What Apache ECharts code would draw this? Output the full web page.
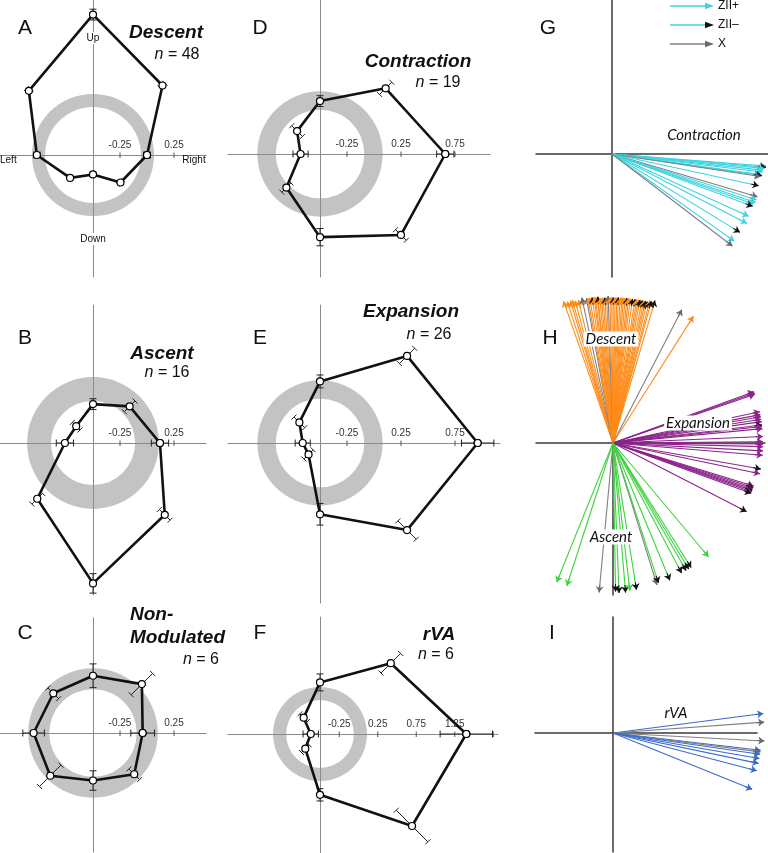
<!DOCTYPE html>
<html><head><meta charset="utf-8">
<script src="https://cdn.jsdelivr.net/npm/echarts@6/dist/echarts.min.js"></script>
<style>html,body{margin:0;padding:0;background:#fff}#c{width:768px;height:853px}</style>
</head><body><div id="c"></div><script>
// ---------- DATA ----------
const DIRECTIONS = [0, 45, 90, 135, 180, 225, 270, 315]; // Right, UR, Up, UL, Left, DL, Down, DR
const RADIAL_ORIGIN = -0.5; // value at the centre of the polar plots

const descentVals      = [0.00, 0.41, 0.80, 0.34, 0.02, -0.20, -0.32, -0.14];
const descentErr       = [0.03, 0.03, 0.05, 0.03, 0.03, 0.02, 0.02, 0.02];
const descentRing      = [-0.056, 0.065];

const ascentVals       = [0.12, -0.02, -0.14, -0.28, -0.24, 0.23, 0.80, 0.44];
const ascentErr        = [0.08, 0.07, 0.05, 0.05, 0.08, 0.07, 0.09, 0.07];
const ascentRing       = [-0.11, 0.11];

const nonModVals       = [-0.04, 0.14, 0.03, 0.02, 0.05, 0.06, -0.06, 0.04];
const nonModErr        = [0.11, 0.14, 0.11, 0.07, 0.10, 0.14, 0.09, 0.07];
const nonModRing       = [-0.095, 0.10];

const contractionVals  = [0.66, 0.36, -0.01, -0.20, -0.32, -0.06, 0.27, 0.56];
const contractionErr   = [0.08, 0.08, 0.05, 0.07, 0.07, 0.06, 0.08, 0.07];
const contractionRing  = [-0.09, 0.08];

const expansionVals    = [0.96, 0.64, 0.07, -0.23, -0.34, -0.35, 0.16, 0.64];
const expansionErr     = [0.15, 0.10, 0.06, 0.07, 0.07, 0.06, 0.10, 0.12];
const expansionRing    = [-0.09, 0.08];

const rvaVals          = [1.40, 0.80, 0.17, -0.20, -0.38, -0.23, 0.29, 1.19];
const rvaErr           = [0.34, 0.18, 0.11, 0.07, 0.10, 0.07, 0.08, 0.29];
const rvaRing          = [-0.06, 0.11];

const ticksABC = [-0.25, 0.25];
const ticksDE  = [-0.25, 0.25, 0.75];
const ticksF   = [-0.25, 0.25, 0.75, 1.25, 1.75];
const labelsF  = [-0.25, 0.25, 0.75, 1.25];

// vectors: [angle deg, length, type]  P = ZII+, M = ZII-, X = X
const contractionVectors = [
  [-4.5,1.03,'P'],[-4.9,1.03,'M'],[-5.4,1.02,'P'],[-6.1,1.01,'P'],[-6.8,1.01,'P'],[-7.9,1.0,'P'],
  [-8.2,1.01,'M'],[-8.6,1.0,'X'],[-12.2,1.0,'M'],[-16.4,1.01,'X'],[-17.6,1.01,'P'],[-18.7,1.01,'P'],
  [-19.5,1.0,'P'],[-20.4,1.0,'M'],[-24.5,1.0,'P'],[-27.2,1.01,'P'],[-31.5,1.0,'M'],[-35.5,1.0,'P'],[-37.4,1.01,'X']
];
const descentVectors = [
  [109.2,1.0,'P'],[107.9,0.99,'P'],[106.7,0.99,'P'],[105.9,0.99,'P'],[104.9,0.98,'P'],[103.6,0.98,'P'],
  [102.1,0.99,'X'],[100.4,0.98,'X'],[99.8,0.98,'P'],[99.1,0.98,'P'],[98.2,0.98,'M'],[97.4,0.98,'P'],
  [96.9,0.98,'P'],[96.2,0.98,'P'],[95.9,0.98,'M'],[95.2,0.97,'P'],[94.5,0.97,'P'],[93.9,0.97,'P'],
  [93.2,0.97,'M'],[92.5,0.97,'P'],[91.9,0.98,'X'],[91.2,0.97,'P'],[90.5,0.97,'P'],[89.9,0.97,'M'],
  [89.2,0.97,'P'],[88.5,0.97,'P'],[87.9,0.97,'M'],[87.2,0.97,'P'],[86.5,0.97,'P'],[85.9,0.97,'P'],
  [85.2,0.97,'P'],[84.5,0.97,'M'],[83.9,0.97,'P'],[83.2,0.97,'P'],[82.3,0.97,'M'],[81.3,0.97,'M'],
  [80.6,0.97,'P'],[80.0,0.97,'P'],[79.3,0.97,'M'],[78.4,0.97,'M'],[77.7,0.97,'P'],[77.1,0.97,'M'],
  [76.4,0.97,'M'],[75.5,0.98,'P'],[74.9,0.98,'M'],[73.6,0.99,'M'],[62.7,1.0,'X'],[57.6,1.0,'P']
];
const expansionVectors = [
  [20.0,1.0,'P'],[19.5,1.0,'P'],[19.0,1.0,'P'],[12.0,1.0,'P'],[10.9,1.0,'P'],[10.1,1.0,'P'],
  [9.1,1.0,'P'],[8.2,1.0,'P'],[6.9,1.0,'M'],[6.3,1.0,'P'],[5.5,1.0,'P'],[2.5,1.0,'P'],
  [0.5,1.0,'P'],[-0.4,1.0,'P'],[-1.4,1.0,'P'],[-3.0,1.0,'P'],[-4.7,1.0,'P'],[-10.0,1.0,'M'],
  [-11.8,1.0,'P'],[-17.0,0.98,'P'],[-17.6,0.98,'M'],[-18.2,0.98,'P'],[-18.8,0.98,'M'],[-19.4,0.98,'P'],
  [-20.0,0.98,'M'],[-27.2,1.0,'M']
];
const ascentVectors = [
  [-112.0,1.0,'P'],[-107.9,1.0,'P'],[-95.3,1.0,'X'],[-89.0,0.99,'M'],[-87.7,1.0,'M'],[-85.2,1.0,'M'],
  [-83.5,0.99,'P'],[-80.9,0.99,'M'],[-72.8,0.99,'X'],[-72.0,0.98,'M'],[-67.5,0.99,'M'],[-62.2,0.98,'M'],
  [-60.2,0.98,'M'],[-59.0,0.98,'M'],[-57.9,0.98,'M'],[-50.0,0.99,'P']
];
const rvaVectors = [
  [7.4,1.01,'P'],[4.1,1.01,'X'],[-3.0,1.01,'X'],[-6.7,0.99,'P'],[-7.3,0.99,'X'],[-8.2,0.99,'P'],
  [-9.9,0.99,'P'],[-11.8,0.99,'P'],[-14.7,0.99,'P'],[-22.0,1.0,'P']
];

// ---------- LAYOUT / STYLE ----------
const polarLayout = [
  {cx:93,  cy:155, s:108, L:93, R:113, T:155, B:122},
  {cx:93,  cy:443, s:108, L:93, R:113, T:138, B:152},
  {cx:93,  cy:733, s:108, L:93, R:113, T:115, B:119},
  {cx:320, cy:154, s:108, L:92, R:170, T:154, B:123},
  {cx:320, cy:443, s:108, L:92, R:180, T:138, B:160},
  {cx:320, cy:734, s:77,  L:92, R:178, T:117, B:119}
];
const vecLayout = [
  {cx:612, cy:154, s:150, L:76, R:156, T:154, B:123},
  {cx:613, cy:443, s:150, L:77, R:152, T:2,   B:152},
  {cx:613, cy:733, s:150, L:78, R:144, T:116, B:119}
];
const CYAN = '#3dd3e0', ORANGE = '#ff8c1a', PURPLE = '#8b238b', GREEN = '#3fd23f', BLUE = '#3a6bcc';
const X_COLOR = '#808080', X_HEAD = '#6a6a6a', M_HEAD = '#111';
const LS = '"Liberation Sans", Arial, sans-serif';

const polarPanels = [
  {vals:descentVals, errs:descentErr, ring:descentRing, ticks:ticksABC, labels:ticksABC},
  {vals:ascentVals, errs:ascentErr, ring:ascentRing, ticks:ticksABC, labels:ticksABC},
  {vals:nonModVals, errs:nonModErr, ring:nonModRing, ticks:ticksABC, labels:ticksABC},
  {vals:contractionVals, errs:contractionErr, ring:contractionRing, ticks:ticksDE, labels:ticksDE},
  {vals:expansionVals, errs:expansionErr, ring:expansionRing, ticks:ticksDE, labels:ticksDE},
  {vals:rvaVals, errs:rvaErr, ring:rvaRing, ticks:ticksF, labels:labelsF}
];

function toXY(v, deg) {
  const r = v - RADIAL_ORIGIN, a = deg * Math.PI / 180;
  return [r * Math.cos(a), r * Math.sin(a)];
}

const grids = [], xAxes = [], yAxes = [], series = [];

function addGrid(lay, idx, axisColor, axisWidth) {
  grids.push({left: lay.cx - lay.L, top: lay.cy - lay.T, width: lay.L + lay.R, height: lay.T + lay.B,
              containLabel: false, outerBoundsMode: 'none'});
  xAxes.push({
    gridIndex: idx, type: 'value', min: -lay.L / lay.s, max: lay.R / lay.s,
    axisLine: {onZero: true, lineStyle: {color: axisColor, width: axisWidth}},
    splitLine: {show: false}, axisTick: {show: false}, axisLabel: {show: false}
  });
  yAxes.push({
    gridIndex: idx, type: 'value', min: -lay.B / lay.s, max: lay.T / lay.s,
    axisLine: {onZero: true, lineStyle: {color: axisColor, width: axisWidth}},
    splitLine: {show: false}, axisTick: {show: false}, axisLabel: {show: false}
  });
}

polarPanels.forEach((p, i) => {
  addGrid(polarLayout[i], i, '#8a8a8a', 1);
  // grey annulus (zero band)
  series.push({
    type: 'custom', xAxisIndex: i, yAxisIndex: i, z: -1, silent: true,
    encode: {x: 0, y: 1},
    data: [[0, 0, p.ring[0], p.ring[1]]],
    renderItem(params, api) {
      const c = api.coord([0, 0]);
      const k = api.size([1, 1]);
      return {type: 'ring', shape: {cx: c[0], cy: c[1], r0: (api.value(2) - RADIAL_ORIGIN) * k[0],
              r: (api.value(3) - RADIAL_ORIGIN) * k[0]}, style: {fill: '#c3c3c3'}};
    }
  });
  // radial axis ticks and labels on the horizontal axis
  series.push({
    type: 'custom', xAxisIndex: i, yAxisIndex: i, z: 2, silent: true,
    encode: {x: 0, y: 1},
    data: p.ticks.map(t => [t - RADIAL_ORIGIN, 0, t, p.labels.indexOf(t) >= 0 ? 1 : 0]),
    renderItem(params, api) {
      const c = api.coord([api.value(0), 0]);
      const children = [{type: 'line', shape: {x1: c[0], y1: c[1] - 2.5, x2: c[0], y2: c[1] + 3},
                         style: {stroke: '#555', lineWidth: 1}}];
      if (api.value(3)) {
        children.push({type: 'text', x: c[0], y: c[1] - 5,
          style: {text: api.value(2).toFixed(2), font: '10px ' + LS, fill: '#333',
                  align: 'center', verticalAlign: 'bottom'}});
      }
      return {type: 'group', children};
    }
  });
  // radial error bars
  series.push({
    type: 'custom', xAxisIndex: i, yAxisIndex: i, z: 3, silent: true,
    encode: {x: 0, y: 1},
    data: DIRECTIONS.map((d, k) => toXY(p.vals[k], d).concat([d, p.vals[k], p.errs[k]])),
    renderItem(params, api) {
      const a = api.value(2) * Math.PI / 180, v = api.value(3), e = api.value(4);
      const ra = v - RADIAL_ORIGIN - e, rb = v - RADIAL_ORIGIN + e;
      const p1 = api.coord([ra * Math.cos(a), ra * Math.sin(a)]);
      const p2 = api.coord([rb * Math.cos(a), rb * Math.sin(a)]);
      let ux = p2[0] - p1[0], uy = p2[1] - p1[1];
      const len = Math.hypot(ux, uy) || 1; ux /= len; uy /= len;
      const nx = -uy * 3.5, ny = ux * 3.5;
      const st = () => ({stroke: '#222', lineWidth: 1});
      return {type: 'group', children: [
        {type: 'line', shape: {x1: p1[0], y1: p1[1], x2: p2[0], y2: p2[1]}, style: st()},
        {type: 'line', shape: {x1: p1[0] - nx, y1: p1[1] - ny, x2: p1[0] + nx, y2: p1[1] + ny}, style: st()},
        {type: 'line', shape: {x1: p2[0] - nx, y1: p2[1] - ny, x2: p2[0] + nx, y2: p2[1] + ny}, style: st()}
      ]};
    }
  });
  const pts = DIRECTIONS.map((d, k) => toXY(p.vals[k], d));
  pts.push(pts[0]);
  series.push({
    type: 'line', xAxisIndex: i, yAxisIndex: i, z: 4, silent: true, data: pts,
    symbol: 'circle', symbolSize: 7, showAllSymbol: true,
    itemStyle: {color: '#fff', borderColor: '#000', borderWidth: 1.2},
    lineStyle: {color: '#111', width: 2.6}
  });
});

const vecPanels = [
  [{vecs: contractionVectors, color: CYAN}],
  [{vecs: descentVectors, color: ORANGE}, {vecs: expansionVectors, color: PURPLE}, {vecs: ascentVectors, color: GREEN}],
  [{vecs: rvaVectors, color: BLUE}]
];
vecPanels.forEach((groups, j) => {
  const idx = 6 + j;
  addGrid(vecLayout[j], idx, '#3a3a3a', 1.5);
  groups.forEach(g => {
    const ends = g.vecs.map(([ang, len]) => {
      const a = ang * Math.PI / 180; return [len * Math.cos(a), len * Math.sin(a)];
    });
    series.push({
      type: 'lines', coordinateSystem: 'cartesian2d', xAxisIndex: idx, yAxisIndex: idx, clip: false,
      silent: true, z: 3, symbol: 'none', lineStyle: {width: 1.1, opacity: 1},
      data: g.vecs.map((v, k) => ({coords: [[0, 0], ends[k]],
        lineStyle: {color: v[2] === 'X' ? X_COLOR : g.color, width: 1.1, opacity: 1}}))
    });
    series.push({
      type: 'lines', coordinateSystem: 'cartesian2d', xAxisIndex: idx, yAxisIndex: idx, clip: false,
      silent: true, z: 4, symbol: ['none', 'arrow'], symbolSize: 6, lineStyle: {width: 1.1, opacity: 1},
      data: g.vecs.map((v, k) => ({coords: [[ends[k][0] * 0.95, ends[k][1] * 0.95], ends[k]],
        lineStyle: {color: v[2] === 'P' ? g.color : (v[2] === 'M' ? M_HEAD : X_HEAD), width: 1.1, opacity: 1}}))
    });
  });
});

// ---------- TEXT ----------
const graphic = [];
function txt(text, x, y, font, align, vAlign, extra) {
  graphic.push({type: 'text', x, y, z: 100, silent: true,
    style: Object.assign({text, font, fill: '#111', align, verticalAlign: vAlign,
      textAlign: align, textVerticalAlign: vAlign}, extra || {})});
}
const letters = [['A',25,28],['B',25,338],['C',25,633],['D',260,28],['E',260,338],['F',260,633],['G',548,28],['H',550,338],['I',552,633]];
letters.forEach(([t, x, y]) => txt(t, x, y, '21px ' + LS, 'center', 'middle'));

const TF = 'italic bold 19px ' + LS;
txt('Descent', 166, 33, TF, 'center', 'middle');
txt('Ascent', 162, 354, TF, 'center', 'middle');
txt('Non-', 130, 615, TF, 'left', 'middle');
txt('Modulated', 130, 638, TF, 'left', 'middle');
txt('Contraction', 418, 62, TF, 'center', 'middle');
txt('Expansion', 411, 312, TF, 'center', 'middle');
txt('rVA', 439, 635, TF, 'center', 'middle');
const nRich = {i: {fontStyle: 'italic', fontSize: 16, fontFamily: 'Liberation Sans', fill: '#111'},
               r: {fontSize: 16, fontFamily: 'Liberation Sans', fill: '#111'}};
[['48',177,55],['16',167,373],['6',201,660],['19',438,83],['26',429,335],['6',436,655]].forEach(([n, x, y]) =>
  txt('{i|n}{r| = ' + n + '}', x, y, '16px ' + LS, 'center', 'middle', {rich: nRich}));

const DF = '10px ' + LS;
txt('Up', 93, 38, DF, 'center', 'middle', {backgroundColor: '#fff', padding: [1, 1]});
txt('Down', 93, 239, DF, 'center', 'middle', {backgroundColor: '#fff', padding: [1, 1]});
txt('Left', 0, 160, DF, 'left', 'middle');
txt('Right', 194, 160, DF, 'center', 'middle');

const VF = 'italic 15px Lato, "Open Sans", sans-serif';
txt('Contraction', 704, 135, VF, 'center', 'middle');
txt('Descent', 611, 339, VF, 'center', 'middle', {backgroundColor: '#fff', padding: [0, 2]});
txt('Expansion', 698, 423, VF, 'center', 'middle', {backgroundColor: '#fff', padding: [0, 2]});
txt('Ascent', 611, 537, VF, 'center', 'middle', {backgroundColor: '#fff', padding: [0, 2]});
txt('rVA', 676, 713, VF, 'center', 'middle');

// legend (panel G)
const legendItems = [['ZII+', CYAN, CYAN, 6], ['ZII\u2013', CYAN, M_HEAD, 25], ['X', X_COLOR, X_HEAD, 44]];
legendItems.forEach(([label, lc, hc, y]) => {
  graphic.push({type: 'line', silent: true, z: 100, shape: {x1: 670, y1: y, x2: 707, y2: y}, style: {stroke: lc, lineWidth: 1.3}});
  graphic.push({type: 'polygon', silent: true, z: 100, shape: {points: [[714, y], [705, y - 3.2], [705, y + 3.2]]}, style: {fill: hc}});
  txt(label, 718, y, '12px ' + LS, 'left', 'middle');
});

const chart = echarts.init(document.getElementById('c'), null, {renderer: 'canvas'});
chart.setOption({animation: false, backgroundColor: '#fff', grid: grids, xAxis: xAxes, yAxis: yAxes, series, graphic});
</script></body></html>
